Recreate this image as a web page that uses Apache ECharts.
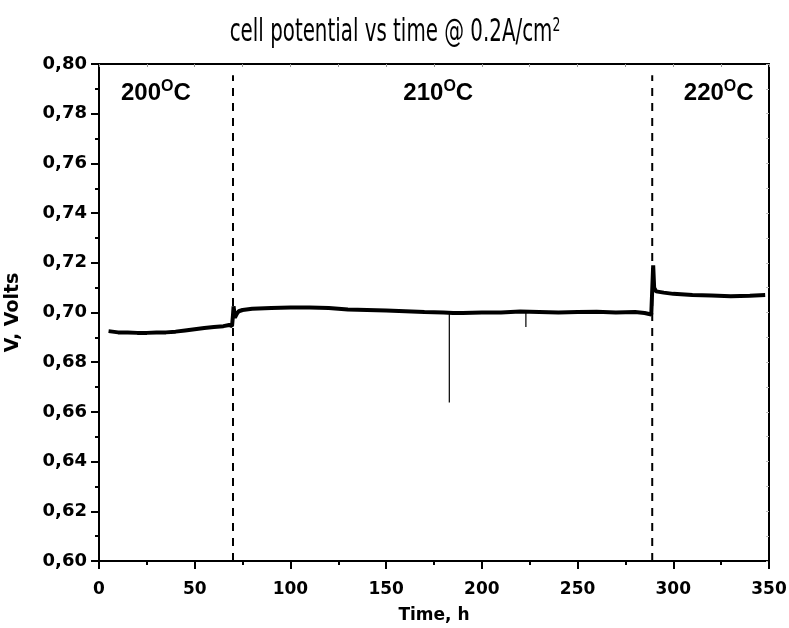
<!DOCTYPE html>
<html><head><meta charset="utf-8">
<script src="https://cdn.jsdelivr.net/npm/echarts@6/dist/echarts.min.js"></script>
<style>html,body{margin:0;padding:0;background:#fff}#c{width:789px;height:628px}</style>
</head><body><div id="c"></div>
<script>
var timeH = [5,10,15,20,25,30,35,40,45,50,55,60,65,68,69.5,70,70.3,71,72,73,75,80,90,100,110,120,130,140,150,160,170,180,185,190,200,210,220,230,240,250,260,270,280,285,288.5,289.2,289.5,290,291,292,295,300,310,320,330,340,348];
var volts = [0.6925,0.692,0.692,0.6918,0.6918,0.692,0.692,0.6923,0.6928,0.6933,0.6938,0.6942,0.6945,0.695,0.6945,0.699,0.7025,0.698,0.6995,0.7005,0.701,0.7015,0.7018,0.702,0.702,0.7018,0.7012,0.701,0.7008,0.7005,0.7002,0.7,0.6998,0.6998,0.7,0.7,0.7004,0.7002,0.7,0.7002,0.7003,0.7,0.7002,0.6998,0.6992,0.6988,0.719,0.710,0.7085,0.708,0.708,0.7075,0.707,0.7068,0.7065,0.7067,0.707];
var spikeTimes = [183, 223];
var spikeBase = [0.7, 0.7003];
var spikeLow = [0.6638, 0.6942];
var changeTimes = [70, 289];
var tempLabels = ['200', '210', '220'];
var tempLabelTimes = [11.5, 159, 305.5];

var chart = echarts.init(document.getElementById('c'), null, {renderer:'canvas'});
var lineData = timeH.map(function(t,i){return [t, volts[i]];});
var series = [{
  type:'line', data: lineData, showSymbol:false, symbol:'none',
  lineStyle:{color:'#000', width:4}, animation:false, z:5
}];
spikeTimes.forEach(function(t,i){
  series.push({type:'line', data:[[t,spikeBase[i]],[t,spikeLow[i]]], symbol:'none',
    lineStyle:{color:'#000', width:1.2}, animation:false, z:5});
});
changeTimes.forEach(function(t){
  series.push({type:'line', data:[[t,0.6],[t,0.7955]], symbol:'none',
    lineStyle:{color:'#000', width:2, type:[8,7]}, animation:false, z:4});
});
var font = '"DejaVu Sans", Verdana, sans-serif';
var graphics = [{
  type:'text', x:395, y:33, scaleX:0.62, originX:0, originY:0,
  style:{text:'cell potential vs time @ 0.2A/cm{s|2}', font:'32px "DejaVu Sans", sans-serif', fill:'#000',
    textAlign:'center', textVerticalAlign:'middle',
    rich:{s:{fontSize:20, fontFamily:'"DejaVu Sans", sans-serif', padding:[0,0,14,0]}}}
}];
var option = {
  animation:false,
  grid:{left:99, right:20, top:64, bottom:67, show:false, containLabel:false, outerBoundsMode:'none'},
  xAxis:[{
    type:'value', min:0, max:350, interval:50, position:'bottom',
    axisLine:{show:true, onZero:false, lineStyle:{color:'#000', width:2}},
    axisTick:{show:true, inside:false, length:8, lineStyle:{color:'#000', width:2}},
    minorTick:{show:true, splitNumber:2, length:4, lineStyle:{color:'#000', width:2}},
    splitLine:{show:false},
    axisLabel:{color:'#000', fontFamily:font, fontWeight:'bold', fontSize:17, margin:20},
    name:'Time, h', nameLocation:'middle', nameGap:46,
    nameTextStyle:{color:'#000', fontFamily:font, fontWeight:'bold', fontSize:17}
  },{
    type:'value', min:0, max:350, interval:50, position:'top',
    axisLine:{show:true, onZero:false, lineStyle:{color:'#000', width:2}},
    axisTick:{show:true, inside:true, length:3, lineStyle:{color:'#999', width:1}},
    minorTick:{show:true, splitNumber:2, length:3, lineStyle:{color:'#999', width:1}},
    axisLabel:{show:false}, splitLine:{show:false}
  }],
  yAxis:[{
    type:'value', min:0.6, max:0.8, interval:0.02, position:'left',
    axisLine:{show:true, onZero:false, lineStyle:{color:'#000', width:2}},
    axisTick:{show:true, inside:false, length:8, lineStyle:{color:'#000', width:2}},
    minorTick:{show:true, splitNumber:2, length:4, lineStyle:{color:'#000', width:2}},
    splitLine:{show:false},
    axisLabel:{color:'#000', fontFamily:font, fontWeight:'bold', fontSize:18, margin:12,
      formatter:function(v){return v.toFixed(2).replace('.', ',');}},
    name:'V, Volts', nameLocation:'middle', nameGap:76, nameRotate:90,
    nameTextStyle:{color:'#000', fontFamily:font, fontWeight:'bold', fontSize:19}
  },{
    type:'value', min:0.6, max:0.8, interval:0.02, position:'right',
    axisLine:{show:true, onZero:false, lineStyle:{color:'#000', width:2}},
    axisTick:{show:true, inside:true, length:3, lineStyle:{color:'#bbb', width:1}},
    minorTick:{show:true, splitNumber:2, length:3, lineStyle:{color:'#bbb', width:1}},
    axisLabel:{show:false}, splitLine:{show:false}
  }],
  series: series,
  graphic: graphics
};
chart.setOption(option);
var g2 = [];
tempLabels.forEach(function(lbl,i){
  var p = chart.convertToPixel({xAxisIndex:0, yAxisIndex:0}, [tempLabelTimes[i], 0.788]);
  g2.push({type:'text', x:p[0], y:p[1],
    style:{text:lbl+'{o|O}C', font:'bold 24px "Liberation Sans", Arial, sans-serif', fill:'#000',
      textVerticalAlign:'middle',
      rich:{o:{fontSize:16, fontWeight:'bold', fontFamily:'"Liberation Sans", Arial, sans-serif', padding:[0,0,14,0], verticalAlign:'top'}}}});
});
chart.setOption({graphic: graphics.concat(g2)});
</script></body></html>
